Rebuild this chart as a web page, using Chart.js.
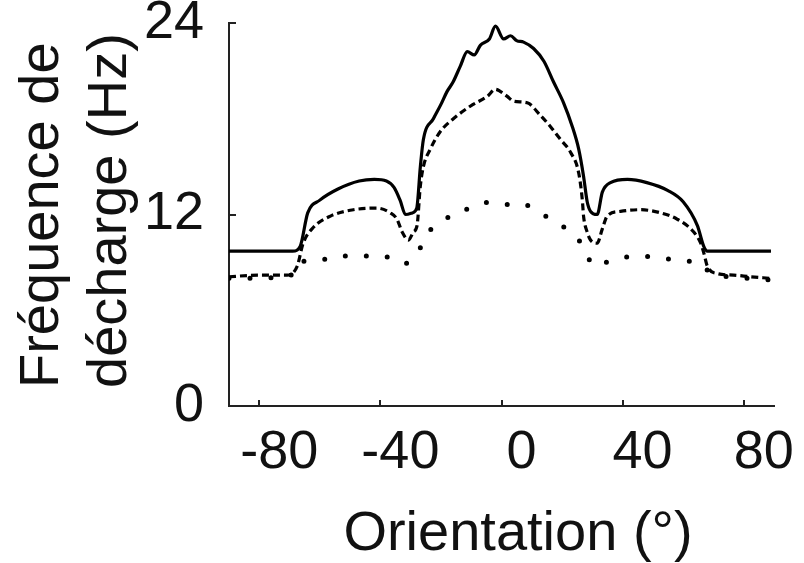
<!DOCTYPE html>
<html>
<head>
<meta charset="utf-8">
<script src="https://cdn.jsdelivr.net/npm/chart.js@4.4.0/dist/chart.umd.min.js"></script>
<style>
  html, body { margin: 0; padding: 0; background: #fff; }
  canvas { display: block; }
</style>
</head>
<body>
<canvas id="chart" width="804" height="563"></canvas>
<script>
const xTicks = [-80, -40, 0, 40, 80];
const yTicks = [0, 12, 24];
const xTitle = 'Orientation (°)';
const yTitle = ['Fréquence de', 'décharge (Hz)'];

// solid curve
const solidDeg = [-90, -69, -66.5, -64, -60, -54, -47, -42, -38, -35.5, -33.5, -31.7, -29.5, -28, -26.8, -25.8, -22.5, -20, -18, -16, -13.6, -11.3, -9, -7, -4, -2, 0.7, 3, 5, 7.3, 10.6, 14, 17.2, 20.5, 23.4, 25.5, 27.1, 28.3, 29.4, 31.6, 33.3, 36, 41.6, 48, 55, 60, 64.7, 66.8, 68, 89];
const solidHz = [9.7, 9.7, 10.0, 12.1, 12.9, 13.6, 14.1, 14.2, 14.1, 13.7, 12.9, 12.0, 12.1, 12.4, 15.0, 16.7, 18.0, 18.9, 19.7, 20.3, 21.3, 22.2, 22.0, 22.6, 23.0, 23.8, 23.0, 23.2, 22.9, 22.8, 22.4, 21.6, 20.3, 19.0, 17.5, 16.1, 14.4, 12.8, 12.2, 12.0, 13.4, 14.0, 14.2, 14.0, 13.5, 12.8, 11.3, 10.0, 9.7, 9.7];

// dashed curve
const dashedDeg = [-90, -80, -70.8, -67.5, -65.5, -62.1, -56.5, -48.9, -41.1, -36.7, -34.5, -32.8, -30.7, -29.1, -27.9, -26.8, -25.8, -23.5, -20.2, -15.9, -10.2, -4.7, -2, -0.3, 1.9, 4, 8.5, 12.9, 16.2, 19.5, 22.8, 25.5, 26.7, 27.1, 28.3, 29.4, 31.6, 33.3, 34.9, 39.3, 46, 52.6, 58.1, 63.5, 65.8, 66.8, 68, 71.3, 76.7, 82.3, 88.8];
const dashedHz = [8.1, 8.2, 8.2, 8.75, 10.2, 11.2, 11.9, 12.3, 12.4, 12.1, 11.7, 10.9, 10.4, 10.9, 11.3, 13.8, 15.0, 16.1, 17.2, 18.0, 18.8, 19.4, 19.85, 19.7, 19.4, 19.1, 19.0, 18.2, 17.5, 16.7, 15.9, 14.6, 12.9, 11.9, 10.9, 10.4, 10.2, 11.1, 11.9, 12.2, 12.3, 12.1, 11.7, 10.9, 10.2, 9.6, 8.75, 8.3, 8.2, 8.1, 8.0];

// dotted curve
const dottedDeg = [-90, -70, -67.5, -60.9, -53.9, -46.6, -39.3, -32.4, -27.8, -24.1, -19.2, -14.6, -9.7, -5.3, 0.2, 6.3, 11.8, 17.2, 22.1, 27.1, 30.4, 37.7, 44.9, 51.9, 59.2, 66.3, 69, 75, 88.8];
const dottedHz = [8.0, 8.1, 9.0, 9.1, 9.4, 9.4, 9.4, 8.9, 9.6, 10.9, 11.6, 12.2, 12.4, 12.75, 12.6, 12.7, 12.2, 11.6, 11.0, 10.0, 8.8, 9.2, 9.4, 9.3, 9.1, 8.9, 8.3, 8.1, 7.9];

const toPoints = (xs, ys) => xs.map((x, i) => ({ x: x, y: ys[i] }));

const FONT = '"Liberation Sans", Arial, sans-serif';
const INK = '#111';

// inner tick marks and axis titles
const axisExtras = {
    id: 'axisExtras',
    afterDraw(chart) {
        const ctx = chart.ctx;
        const xs = chart.scales.x;
        const ys = chart.scales.y;
        const area = chart.chartArea;
        ctx.save();
        ctx.strokeStyle = '#222';
        ctx.lineWidth = 2;
        xTicks.forEach(v => {
            const px = Math.round(xs.getPixelForValue(v));
            ctx.beginPath();
            ctx.moveTo(px, area.bottom);
            ctx.lineTo(px, area.bottom - 6);
            ctx.stroke();
        });
        yTicks.forEach(v => {
            const py = Math.round(ys.getPixelForValue(v));
            ctx.beginPath();
            ctx.moveTo(area.left, py);
            ctx.lineTo(area.left + 7, py);
            ctx.stroke();
        });

        ctx.fillStyle = INK;
        ctx.font = '56px ' + FONT;
        ctx.textAlign = 'center';
        ctx.textBaseline = 'alphabetic';
        ctx.fillText(xTitle, 518, 550);

        ctx.translate(58, 388);
        ctx.rotate(-Math.PI / 2);
        ctx.textAlign = 'left';
        ctx.fillText(yTitle[0], 0, 0);
        ctx.fillText(yTitle[1], 0, 68);
        ctx.restore();
    }
};

new Chart(document.getElementById('chart'), {
    type: 'line',
    data: {
        datasets: [
            {
                label: 'solid',
                data: toPoints(solidDeg, solidHz),
                borderColor: '#000',
                borderWidth: 3.2,
                pointRadius: 0,
                cubicInterpolationMode: 'monotone',
            },
            {
                label: 'dashed',
                data: toPoints(dashedDeg, dashedHz),
                borderColor: '#000',
                borderWidth: 3.2,
                borderDash: [7, 4],
                pointRadius: 0,
                cubicInterpolationMode: 'monotone',
            },
            {
                label: 'dotted',
                data: toPoints(dottedDeg, dottedHz),
                borderColor: '#000',
                borderWidth: 5,
                borderDash: [0, 21],
                borderCapStyle: 'round',
                pointRadius: 0,
                cubicInterpolationMode: 'monotone',
            },
        ],
    },
    options: {
        responsive: false,
        animation: false,
        devicePixelRatio: 1,
        layout: {
            padding: { left: 0, right: 30, top: 23, bottom: 0 },
        },
        scales: {
            x: {
                type: 'linear',
                min: -90,
                max: 90,
                afterBuildTicks: (scale) => { scale.ticks = xTicks.map(v => ({ value: v })); },
                afterFit: (scale) => {
                    scale.height = 157;
                    scale.paddingLeft = 0;
                    scale.paddingRight = 0;
                },
                grid: { display: false, drawTicks: false },
                border: { display: true, color: '#222', width: 2 },
                ticks: {
                    font: { family: FONT, size: 54 },
                    color: INK,
                    padding: 15,
                    labelOffset: 20,
                    maxRotation: 0,
                    autoSkip: false,
                },
            },
            y: {
                type: 'linear',
                min: 0,
                max: 24,
                afterBuildTicks: (scale) => { scale.ticks = yTicks.map(v => ({ value: v })); },
                afterFit: (scale) => {
                    scale.width = 229;
                    scale.paddingTop = 0;
                    scale.paddingBottom = 0;
                },
                grid: { display: false, drawTicks: false },
                border: { display: true, color: '#222', width: 2 },
                ticks: {
                    font: { family: FONT, size: 54 },
                    color: INK,
                    padding: 25,
                    autoSkip: false,
                },
            },
        },
        plugins: {
            legend: { display: false },
            tooltip: { enabled: false },
        },
    },
    plugins: [axisExtras],
});
</script>
</body>
</html>
